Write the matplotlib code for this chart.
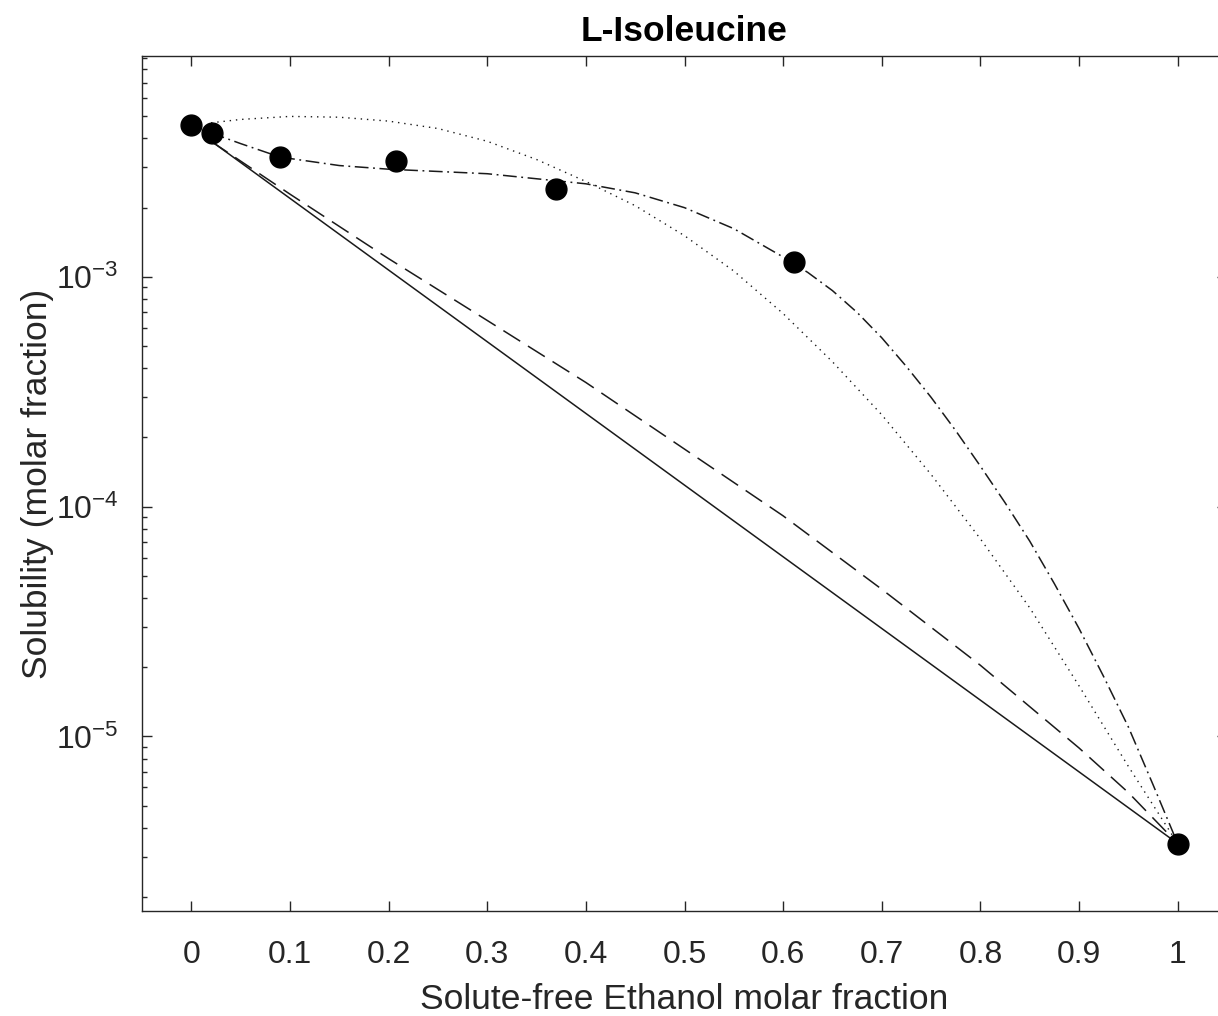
import matplotlib
matplotlib.use("Agg")
import matplotlib.pyplot as plt
from matplotlib.ticker import LogLocator, NullFormatter

# ---- data ----
exp_x = [0.0, 0.021, 0.0904, 0.2075, 0.3698, 0.6106, 1.0]
exp_y = [4.58e-3, 4.23e-3, 3.32e-3, 3.18e-3, 2.40e-3, 1.155e-3, 3.42e-6]

ideal_x = [0.02, 1.0]
ideal_y = [3.9e-3, 3.42e-6]

dashed_x = [0.02, 0.1, 0.2, 0.3, 0.4, 0.5, 0.6, 0.7, 0.8, 0.9, 0.95, 1.0]
dashed_y = [3.89e-3, 2.29e-3, 1.20e-3, 6.46e-4, 3.47e-4, 1.78e-4,
            9.12e-5, 4.37e-5, 2.04e-5, 8.91e-6, 5.70e-6, 3.42e-6]

dotted_x = [0.02, 0.05, 0.1, 0.15, 0.2, 0.25, 0.3, 0.35, 0.4, 0.45, 0.5,
            0.55, 0.6, 0.65, 0.7, 0.75, 0.8, 0.85, 0.9, 0.95, 1.0]
dotted_y = [4.68e-3, 4.84e-3, 4.99e-3, 4.95e-3, 4.76e-3, 4.42e-3, 3.89e-3,
            3.24e-3, 2.60e-3, 2.04e-3, 1.51e-3, 1.06e-3, 6.92e-4, 4.27e-4,
            2.51e-4, 1.38e-4, 7.24e-5, 3.63e-5, 1.66e-5, 7.41e-6, 3.42e-6]

dashdot_x = [0.02, 0.05, 0.09, 0.15, 0.2, 0.3, 0.4, 0.45, 0.5, 0.55, 0.6,
             0.625, 0.65, 0.675, 0.7, 0.725, 0.75, 0.775, 0.8, 0.825, 0.85,
             0.875, 0.9, 0.925, 0.95, 0.975, 1.0]
dashdot_y = [4.23e-3, 3.80e-3, 3.32e-3, 3.05e-3, 2.94e-3, 2.81e-3, 2.54e-3,
             2.32e-3, 2.00e-3, 1.62e-3, 1.22e-3, 1.045e-3, 8.71e-4, 7.00e-4,
             5.43e-4, 4.07e-4, 2.99e-4, 2.14e-4, 1.50e-4, 1.04e-4, 7.08e-5,
             4.62e-5, 2.95e-5, 1.82e-5, 1.10e-5, 6.17e-6, 3.42e-6]

xticks = [0, 0.1, 0.2, 0.3, 0.4, 0.5, 0.6, 0.7, 0.8, 0.9, 1]
xticklabels = ["0", "0.1", "0.2", "0.3", "0.4", "0.5", "0.6", "0.7", "0.8", "0.9", "1"]

title = "L-Isoleucine"
xlabel = "Solute-free Ethanol molar fraction"
ylabel = "Solubility (molar fraction)"

# ---- style ----
plt.rcParams['font.family'] = ['Liberation Sans', 'DejaVu Sans']
plt.rcParams['mathtext.fontset'] = 'custom'
plt.rcParams['mathtext.rm'] = 'Liberation Sans'
plt.rcParams['mathtext.it'] = 'Liberation Sans'
plt.rcParams['axes.unicode_minus'] = False
axc = '#262626'

W, H = 1218, 1016
fig = plt.figure(figsize=(W / 100, H / 100), dpi=100)
ax = fig.add_axes([142 / W, 1 - 911 / H, (1227 - 142) / W, (911 - 56) / H])

lc = '#1a1a1a'
ax.plot(ideal_x, ideal_y, '-', color=lc, lw=1.1)
ax.plot(dashed_x, dashed_y, color=lc, lw=1.1, dashes=(13, 6))
ax.plot(dotted_x, dotted_y, color=lc, lw=1.0, dashes=(1, 3.5))
ax.plot(dashdot_x, dashdot_y, color=lc, lw=1.1, dashes=(9, 3, 1.2, 3))
ax.plot(exp_x, exp_y, 'o', color='black', ms=15, zorder=5)

ax.set_yscale('log')
ax.set_xlim(-0.05, 1.05)
ax.set_ylim(1.74e-6, 9.14e-3)
ax.set_xticks(xticks)
ax.set_xticklabels(xticklabels)
ax.yaxis.set_major_locator(LogLocator(base=10, numticks=10))
ax.yaxis.set_minor_locator(LogLocator(base=10, subs=range(2, 10), numticks=20))
ax.yaxis.set_minor_formatter(NullFormatter())

for s in ax.spines.values():
    s.set_color(axc)
    s.set_linewidth(1.0)
ax.tick_params(which='both', direction='in', top=True, right=True, colors=axc,
               labelcolor=axc, width=1.0)
ax.tick_params(which='major', length=7.5, labelsize=23)
ax.tick_params(which='minor', length=3.8)
ax.tick_params(axis='x', pad=21)
ax.tick_params(axis='y', pad=17)

ax.set_title(title, fontsize=25.5, fontweight='bold', color='black', pad=11)
ax.set_xlabel(xlabel, fontsize=25.5, color=axc, labelpad=9)
ax.set_ylabel(ylabel, fontsize=25.5, color=axc, labelpad=1)

fig.savefig('out.png', dpi=100, facecolor='white')
